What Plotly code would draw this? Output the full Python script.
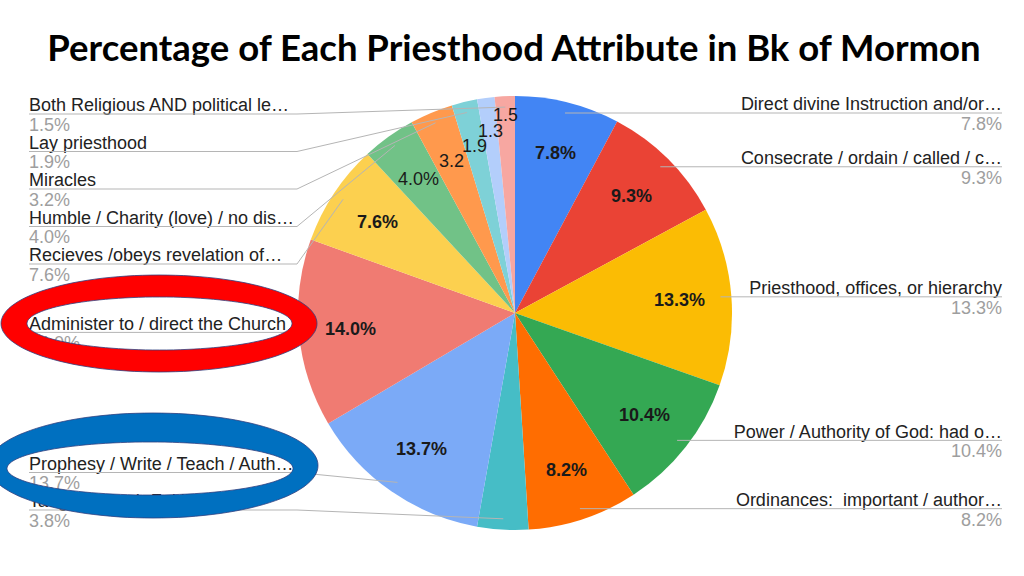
import numpy as np
import plotly.graph_objects as go

# slices, clockwise from 12 o'clock
labels = [
    "Direct divine Instruction and/or…",
    "Consecrate / ordain / called / c…",
    "Priesthood, offices, or hierarchy",
    "Power / Authority of God: had o…",
    "Ordinances:  important / author…",
    "Taught / Teach Faith in C…",
    "Prophesy / Write / Teach / Auth…",
    "Administer to / direct the Church",
    "Recieves /obeys revelation of…",
    "Humble / Charity (love) / no dis…",
    "Miracles",
    "Lay priesthood",
    "Other",
    "Both Religious AND political le…",
]
values = [7.8, 9.3, 13.3, 10.4, 8.2, 3.8, 13.7, 14.0, 7.6, 4.0, 3.2, 1.9, 1.3, 1.5]
colors = [
    "#4285F4", "#EA4335", "#FBBC04", "#34A853", "#FF6D01", "#46BDC6", "#7BAAF7",
    "#F07B72", "#FCD04F", "#71C287", "#FF994D", "#7ED1D7", "#B3CEFB", "#F7A7A1",
]
no_outside_label = ["Other"]
no_inside_label = ["Taught / Teach Faith in C…"]

title = "Percentage of Each Priesthood Attribute in Bk of Mormon"

W, H = 1024, 576
cx, cy, R = 515, 313, 217
FONT = "Liberation Sans, Arial, sans-serif"
FS = 18

v = np.array(values)
tot = v.sum()
mid = (np.cumsum(v) - v / 2) / tot * 2 * np.pi


def polar(r, a):
    return cx + r * np.sin(a), cy - r * np.cos(a)


fig = go.Figure()

fig.add_trace(go.Pie(
    labels=labels,
    values=values,
    sort=False,
    direction="clockwise",
    rotation=0,
    marker=dict(colors=colors, line=dict(width=0)),
    textinfo="none",
    domain=dict(x=[(cx - R) / W, (cx + R) / W], y=[1 - (cy + R) / H, 1 - (cy - R) / H]),
    showlegend=False,
))

# labels inside the slices; small ones step outwards so they don't collide
annotations = []
placed = []
prev_r = 0.76 * R
for i, lab in enumerate(labels):
    if lab in no_inside_label:
        continue
    val = values[i]
    txt = f"{val:.1f}%" if val >= 4 else f"{val:.1f}"
    w = 9.5 * len(txt)
    r_in = 0.76 * R if val >= 4 else max(0.76 * R, prev_r)
    while r_in < 0.95 * R:
        x, y = polar(r_in, mid[i])
        if all(abs(x - px) >= (w + pw) / 2 or abs(y - py) >= 15 for px, py, pw in placed):
            break
        r_in += 1
    prev_r = r_in
    placed.append((x, y, w))
    if val >= 5:
        txt = "<b>" + txt + "</b>"
    annotations.append(dict(
        x=x, y=y, xref="x", yref="y", text=txt, showarrow=False,
        font=dict(family=FONT, size=FS, color="#1a1a1a"),
        xanchor="center", yanchor="middle",
    ))

# outside labels with leader lines
shapes = []
ex, ey = polar(0.95 * R, mid)
left = [i for i in range(len(labels)) if np.sin(mid[i]) < 0 and labels[i] not in no_outside_label]
right = [i for i in range(len(labels)) if np.sin(mid[i]) >= 0 and labels[i] not in no_outside_label]

left.sort(key=lambda i: ey[i])
gap, top, bottom = 37.5, 114, 510
uy = {}
ys = [min(max(ey[i], top), bottom) for i in left]
for k in range(1, len(ys)):
    ys[k] = max(ys[k], ys[k - 1] + gap)
ys[-1] = min(ys[-1], bottom)
for k in range(len(ys) - 2, -1, -1):
    ys[k] = min(ys[k], ys[k + 1] - gap)
for i, y in zip(left, ys):
    uy[i] = y
for i in right:
    uy[i] = ey[i]

name_x, name_y, name_t, name_pos = [], [], [], []
pct_t = []
for i in left + right:
    y = uy[i]
    if i in left:
        name_x.append(29)
        name_pos.append("middle right")
        shapes.append(dict(
            type="path", xref="x", yref="y",
            path=f"M 29,{y:.1f} L 297,{y:.1f} L {ex[i]:.1f},{ey[i]:.1f}",
            line=dict(color="#b5b5b5", width=1),
        ))
    else:
        name_x.append(1002)
        name_pos.append("middle left")
        shapes.append(dict(
            type="line", xref="x", yref="y",
            x0=ex[i], y0=y, x1=1002, y1=y,
            line=dict(color="#b5b5b5", width=1),
        ))
    name_y.append(y)
    name_t.append(labels[i])
    pct_t.append(f"{values[i]:.1f}%")

name_y = np.array(name_y)
fig.add_trace(go.Scatter(
    x=name_x, y=name_y - 7.3, text=name_t, mode="text", textposition=name_pos,
    textfont=dict(family=FONT, size=FS, color="#222222"),
    hoverinfo="skip", showlegend=False,
))
fig.add_trace(go.Scatter(
    x=name_x, y=name_y + 12.4, text=pct_t, mode="text", textposition=name_pos,
    textfont=dict(family=FONT, size=FS, color="#9e9e9e"),
    hoverinfo="skip", showlegend=False,
))


# hand-drawn highlight rings
def ellipse(ecx, ecy, rx, ry, n=120):
    t = np.linspace(0, 2 * np.pi, n, endpoint=False)
    pts = [f"{ecx + rx * np.cos(a):.1f},{ecy + ry * np.sin(a):.1f}" for a in t]
    return "M " + " L ".join(pts) + " Z"


rings = [
    ((159, 323.5, 158, 48.5), (159.5, 323.5, 132.5, 26.5), "#FF0000"),
    ((153, 465.5, 165, 52.5), (150, 468.5, 143, 26.5), "#0070C0"),
]
for outer, inner, col in rings:
    shapes.append(dict(
        type="path", xref="x", yref="y",
        path=ellipse(*outer) + " " + ellipse(*inner),
        fillcolor=col, fillrule="evenodd",
        line=dict(color="#2F3F7F", width=0.8),
    ))

fig.update_layout(
    width=W, height=H,
    margin=dict(l=0, r=0, t=0, b=0),
    paper_bgcolor="white", plot_bgcolor="white",
    title=dict(
        text=f"<b>{title}</b>", x=514 / W, xanchor="center",
        y=1 - 48 / H, yanchor="middle",
        font=dict(family="Lato, Open Sans, sans-serif", size=36.5, color="#000000"),
    ),
    xaxis=dict(range=[0, W], visible=False, fixedrange=True, domain=[0, 1]),
    yaxis=dict(range=[H, 0], visible=False, fixedrange=True, domain=[0, 1]),
    shapes=shapes,
    annotations=annotations,
    showlegend=False,
)

# drop the browser's default page margin so the figure sits at the corner
fig.write_html(
    "out.html",
    config={"displayModeBar": False},
    post_script="document.body.style.margin='0';",
)
